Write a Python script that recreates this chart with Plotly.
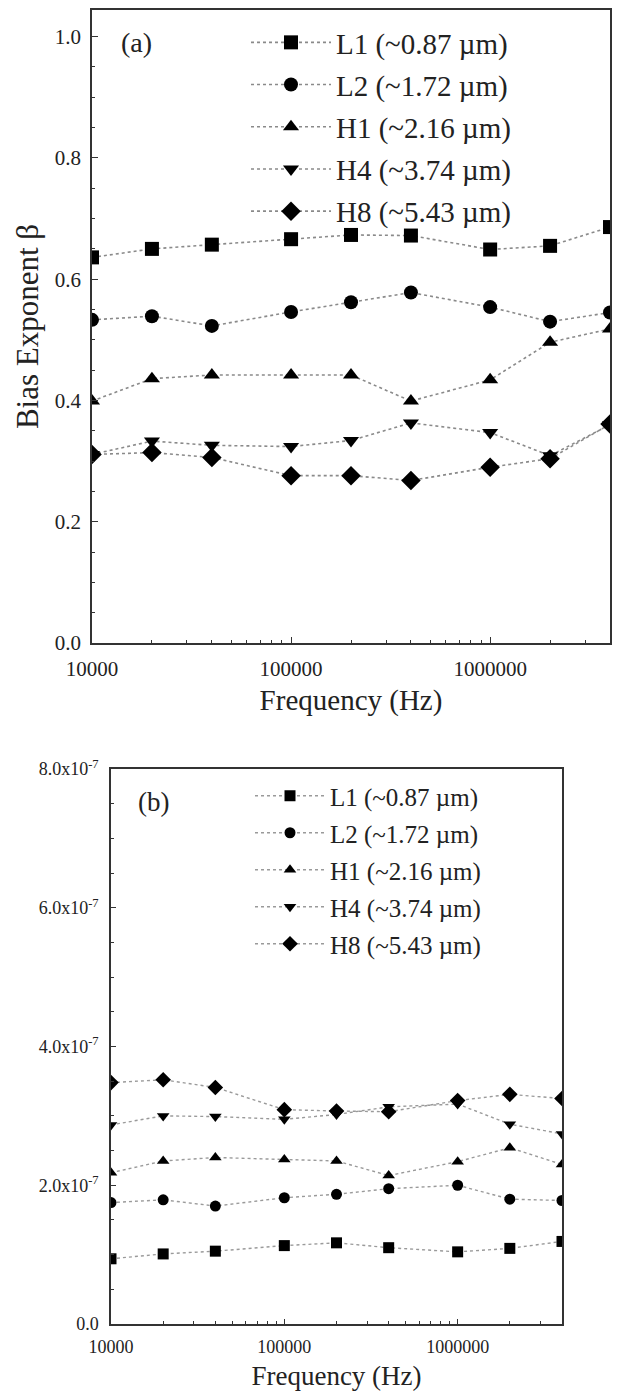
import plotly.graph_objects as go
import numpy as np

freq = [1e4, 2e4, 4e4, 1e5, 2e5, 4e5, 1e6, 2e6, 4e6]
names = ["L1 (~0.87 µm)", "L2 (~1.72 µm)", "H1 (~2.16 µm)", "H4 (~3.74 µm)", "H8 (~5.43 µm)"]
symbols = ["square", "circle", "triangle-up", "triangle-down", "diamond"]

# panel (a): bias exponent beta
beta_L1 = [0.636, 0.650, 0.657, 0.666, 0.673, 0.672, 0.649, 0.655, 0.686]
beta_L2 = [0.533, 0.539, 0.523, 0.546, 0.562, 0.578, 0.554, 0.530, 0.545]
beta_H1 = [0.399, 0.436, 0.442, 0.442, 0.442, 0.399, 0.434, 0.496, 0.518]
beta_H4 = [0.311, 0.333, 0.326, 0.324, 0.334, 0.363, 0.347, 0.309, 0.360]
beta_H8 = [0.311, 0.314, 0.306, 0.276, 0.276, 0.268, 0.290, 0.304, 0.361]

# panel (b): prefactor (units of 1e-7)
pre_L1 = [0.94, 1.01, 1.05, 1.13, 1.17, 1.10, 1.04, 1.09, 1.19]
pre_L2 = [1.75, 1.79, 1.70, 1.82, 1.87, 1.95, 2.00, 1.80, 1.78]
pre_H1 = [2.18, 2.35, 2.40, 2.37, 2.35, 2.14, 2.34, 2.54, 2.30]
pre_H4 = [2.87, 3.00, 2.99, 2.95, 3.02, 3.13, 3.17, 2.88, 2.74]
pre_H8 = [3.48, 3.52, 3.41, 3.09, 3.07, 3.06, 3.22, 3.31, 3.25]

a_series = [beta_L1, beta_L2, beta_H1, beta_H4, beta_H8]
b_series = [[v * 1e-7 for v in s] for s in [pre_L1, pre_L2, pre_H1, pre_H4, pre_H8]]

a_yticks = [0.0, 0.2, 0.4, 0.6, 0.8, 1.0]
a_yticklabels = ["0.0", "0.2", "0.4", "0.6", "0.8", "1.0"]
b_yticks = [0.0, 2e-7, 4e-7, 6e-7, 8e-7]
b_yticklabels = ["0.0", "2.0x10<sup>-7</sup>", "4.0x10<sup>-7</sup>", "6.0x10<sup>-7</sup>", "8.0x10<sup>-7</sup>"]
xticks = [1e4, 1e5, 1e6]
xticklabels = ["10000", "100000", "1000000"]

W, H = 627, 1395
FONT = "Liberation Serif"
TXT = "#222222"
LINE = "#333333"

minor_x = [m * 10 ** e for e in range(4, 7) for m in range(2, 10) if m * 10 ** e <= 4e6]

fig = go.Figure()
for i in range(5):
    fig.add_trace(go.Scatter(
        x=freq, y=a_series[i], name=names[i], mode="lines+markers",
        line=dict(color="#8a8a8a", width=1.6, dash="dot"),
        marker=dict(symbol=symbols[i], size=14 if symbols[i] != "diamond" else 15, color="black"),
        xaxis="x", yaxis="y", legend="legend", legendgroup="a%d" % i))
for i in range(5):
    fig.add_trace(go.Scatter(
        x=freq, y=b_series[i], name=names[i], mode="lines+markers",
        line=dict(color="#9a9a9a", width=1.4, dash="dot"),
        marker=dict(symbol=symbols[i], size=11 if symbols[i] != "diamond" else 12, color="black"),
        xaxis="x2", yaxis="y2", legend="legend2", legendgroup="b%d" % i))

def px(x):
    return x / W

def py(y):
    return 1 - y / H

xmax = np.log10(4e6)
axis_common = dict(showgrid=False, zeroline=False, showline=True, linecolor=LINE, linewidth=1.5,
                   mirror=True, ticks="inside", tickcolor=LINE, tickwidth=1.2, automargin=False)

fig.update_layout(
    width=W, height=H, plot_bgcolor="white", paper_bgcolor="white",
    margin=dict(l=0, r=0, t=0, b=0),
    font=dict(family=FONT, color=TXT),
    xaxis=dict(domain=[px(92), px(610)], anchor="y", type="log", range=[4, xmax],
               tickvals=xticks, ticktext=xticklabels, ticklen=6, ticklabelstandoff=6,
               tickfont=dict(size=21, family=FONT, color=TXT),
               minor=dict(tickvals=minor_x, ticks="inside", ticklen=3, tickcolor=LINE),
               title=dict(text="Frequency (Hz)", font=dict(size=29, family=FONT, color=TXT), standoff=10),
               **axis_common),
    yaxis=dict(domain=[py(643), py(10)], anchor="x", range=[0, 1.044],
               tickvals=a_yticks, ticktext=a_yticklabels, ticklen=6, ticklabelstandoff=5,
               tickfont=dict(size=21, family=FONT, color=TXT),
               minor=dict(dtick=0.05, ticks="inside", ticklen=3, tickcolor=LINE),
               title=dict(text="Bias Exponent β", font=dict(size=31, family=FONT, color=TXT), standoff=7),
               **axis_common),
    xaxis2=dict(domain=[px(111), px(562)], anchor="y2", type="log", range=[4, xmax],
                tickvals=xticks, ticktext=xticklabels, ticklen=5, ticklabelstandoff=6,
                tickfont=dict(size=18, family=FONT, color=TXT),
                minor=dict(tickvals=minor_x, ticks="inside", ticklen=3, tickcolor=LINE),
                title=dict(text="Frequency (Hz)", font=dict(size=27, family=FONT, color=TXT), standoff=10),
                **axis_common),
    yaxis2=dict(domain=[py(1324), py(769)], anchor="x2", range=[0, 8e-7],
                tickvals=b_yticks, ticktext=b_yticklabels, ticklen=5, ticklabelstandoff=7,
                tickfont=dict(size=18, family=FONT, color=TXT),
                minor=dict(dtick=0.5e-7, ticks="inside", ticklen=3, tickcolor=LINE),
                **axis_common),
    legend=dict(x=px(246), y=py(17), xanchor="left", yanchor="top", bgcolor="rgba(0,0,0,0)",
                font=dict(size=29, family=FONT, color=TXT), itemwidth=80, tracegroupgap=1.5,
                itemclick=False),
    legend2=dict(x=px(250), y=py(773), xanchor="left", yanchor="top", bgcolor="rgba(0,0,0,0)",
                 font=dict(size=25, family=FONT, color=TXT), itemwidth=70, tracegroupgap=1.5,
                 itemclick=False),
    annotations=[
        dict(text="(a)", x=px(119), y=py(43), xref="paper", yref="paper", showarrow=False,
             xanchor="left", yanchor="middle", font=dict(size=28, family=FONT, color=TXT)),
        dict(text="(b)", x=px(136), y=py(802), xref="paper", yref="paper", showarrow=False,
             xanchor="left", yanchor="middle", font=dict(size=27, family=FONT, color=TXT)),
    ],
)

fig.write_html("out.html", config={"displayModeBar": False},
               post_script="document.body.style.margin='0';document.body.style.overflow='hidden';")
